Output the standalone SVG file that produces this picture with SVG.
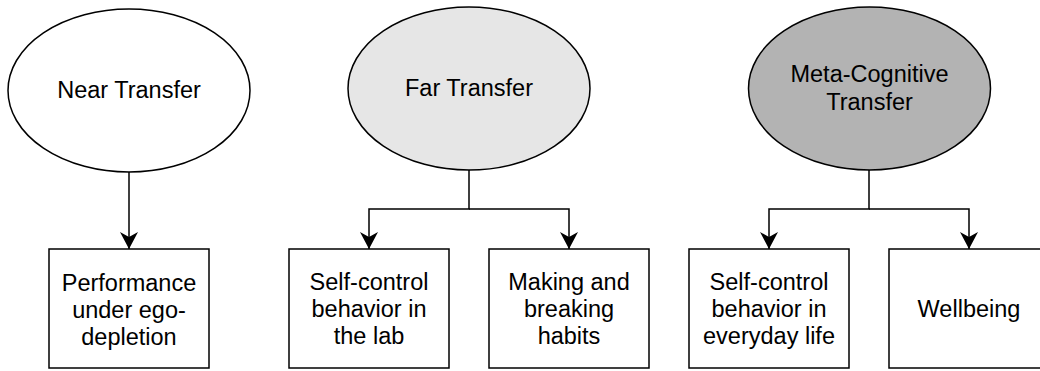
<svg xmlns="http://www.w3.org/2000/svg" width="1040" height="371" viewBox="0 0 1040 371">
  <style>
    .shape { stroke: #000000; stroke-width: 1.5; }
    .box { fill: #ffffff; }
    .near { fill: #ffffff; }
    .far { fill: #e6e6e6; }
    .meta { fill: #b3b3b3; }
    .label { font-family: "Liberation Sans", Arial, Helvetica, sans-serif; font-size: 23.5px; fill: #000000; text-anchor: middle; }
    .conn { fill: none; stroke: #000000; stroke-width: 1.5; }
  </style>
  <defs>
    <marker id="arrow" markerUnits="userSpaceOnUse" viewBox="-19 -10 20 20" refX="0" refY="0" markerWidth="20" markerHeight="20" orient="auto">
      <path d="M0,0 L-17,-9 L-12,0 L-17,9 Z" fill="#000000" stroke="none"/>
    </marker>
  </defs>
  <rect x="0" y="0" width="1040" height="371" fill="#ffffff"/>

  <g id="connectors">
    <path class="conn" d="M129,172 L129,249" marker-end="url(#arrow)"/>
    <path class="conn" d="M469,170 L469,209 L369,209 L369,249" marker-end="url(#arrow)"/>
    <path class="conn" d="M469,209 L569,209 L569,249" marker-end="url(#arrow)"/>
    <path class="conn" d="M869,170 L869,209 L769,209 L769,249" marker-end="url(#arrow)"/>
    <path class="conn" d="M869,209 L969,209 L969,249" marker-end="url(#arrow)"/>
  </g>

  <g id="near-transfer">
    <ellipse class="shape near" cx="129" cy="90.5" rx="121" ry="81.5"/>
    <text class="label" x="129" y="98">Near Transfer</text>
  </g>
  <g id="far-transfer">
    <ellipse class="shape far" cx="469" cy="88.5" rx="121" ry="81.5"/>
    <text class="label" x="469" y="96">Far Transfer</text>
  </g>
  <g id="meta-cognitive-transfer">
    <ellipse class="shape meta" cx="869.5" cy="88.5" rx="121" ry="81.5"/>
    <text class="label" x="869.5" y="82">Meta-Cognitive</text>
    <text class="label" x="869.5" y="110">Transfer</text>
  </g>

  <g id="performance">
    <rect class="shape box" x="49" y="249" width="160" height="119"/>
    <text class="label" x="129" y="291">Performance</text>
    <text class="label" x="129" y="318">under ego-</text>
    <text class="label" x="129" y="345">depletion</text>
  </g>
  <g id="self-control-lab">
    <rect class="shape box" x="289" y="249" width="160" height="119"/>
    <text class="label" x="369" y="290">Self-control</text>
    <text class="label" x="369" y="317">behavior in</text>
    <text class="label" x="369" y="344">the lab</text>
  </g>
  <g id="habits">
    <rect class="shape box" x="489" y="249" width="160" height="119"/>
    <text class="label" x="569" y="290">Making and</text>
    <text class="label" x="569" y="317">breaking</text>
    <text class="label" x="569" y="344">habits</text>
  </g>
  <g id="self-control-everyday">
    <rect class="shape box" x="689" y="249" width="160" height="119"/>
    <text class="label" x="769" y="290">Self-control</text>
    <text class="label" x="769" y="317">behavior in</text>
    <text class="label" x="769" y="344">everyday life</text>
  </g>
  <g id="wellbeing">
    <rect class="shape box" x="889" y="249" width="160" height="119"/>
    <text class="label" x="969" y="317">Wellbeing</text>
  </g>
</svg>
